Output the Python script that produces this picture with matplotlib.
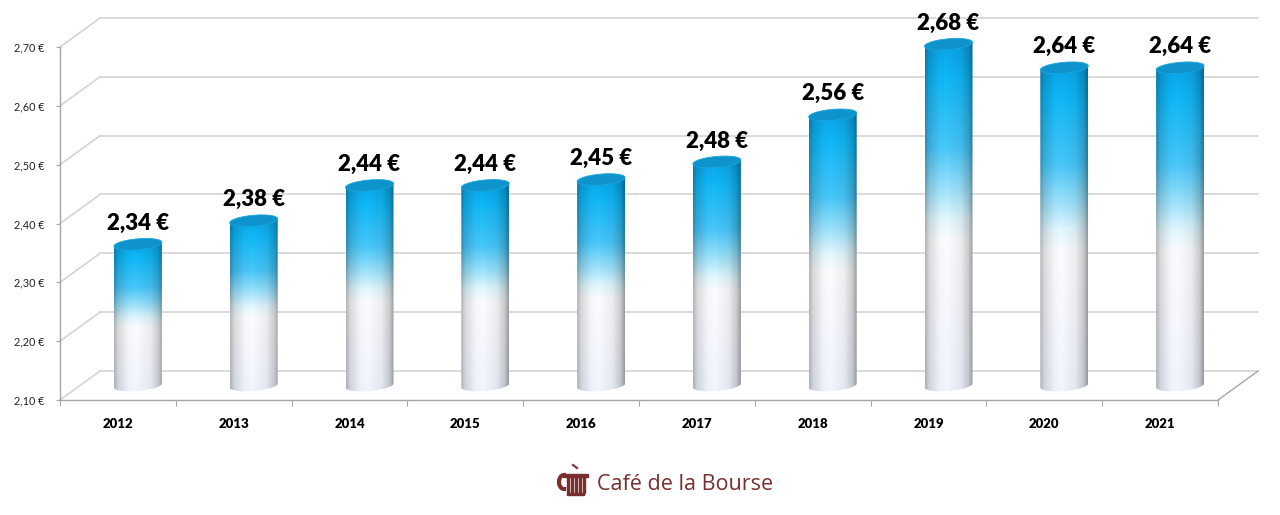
import matplotlib

matplotlib.use("Agg")
import matplotlib.pyplot as plt
import numpy as np
from matplotlib.patches import Polygon, Rectangle

years = ["2012", "2013", "2014", "2015", "2016", "2017", "2018", "2019", "2020", "2021"]
prices = [2.34, 2.38, 2.44, 2.44, 2.45, 2.48, 2.56, 2.68, 2.64, 2.64]
yticks = [2.10, 2.20, 2.30, 2.40, 2.50, 2.60, 2.70]
ytick_labels = ["2,10 €", "2,20 €", "2,30 €", "2,40 €", "2,50 €", "2,60 €", "2,70 €"]
value_labels = ["2,34 €", "2,38 €", "2,44 €", "2,44 €", "2,45 €", "2,48 €", "2,56 €", "2,68 €", "2,64 €", "2,64 €"]
brand = "Café de la Bourse"

W, H = 1280, 515
YMIN, YMAX = 2.10, 2.70
# front plane in pixels
X0, X1, YB, YT = 60, 1218, 400, 47
PX_X = (X1 - X0) / len(years)
PX_Y = (YB - YT) / (YMAX - YMIN)
YTOP = YMIN + YB / PX_Y  # axes reach the top edge of the figure
# depth offset of the back wall (pixels -> data units)
DX = 40 / PX_X
DY = 29 / PX_Y
CYL_W = 48 / PX_X
ELL_H = 5.5 / PX_Y
TILT = 2.0 / PX_Y

GRID_C = "#d4d4d4"
AXIS_C = "#a6a6a6"
BRAND_C = "#7b2e2e"

fig = plt.figure(figsize=(W / 100, H / 100), dpi=100)
ax = fig.add_axes([X0 / W, (H - YB) / H, (X1 - X0) / W, YB / H])
ax.set_xlim(0, len(years))
ax.set_ylim(YMIN, YTOP)
ax.patch.set_alpha(0)
for s in ("top", "right"):
    ax.spines[s].set_visible(False)
for s in ("left", "bottom"):
    ax.spines[s].set_color(AXIS_C)
    ax.spines[s].set_linewidth(1.0)
ax.spines["left"].set_bounds(YMIN, YMAX)

# back wall gridlines and side wall diagonals
for v in yticks:
    ax.plot([DX, len(years) + DX], [v + DY, v + DY], color=GRID_C, lw=1.2, zorder=0, clip_on=False)
    ax.plot([0, DX], [v, v + DY], color=GRID_C, lw=1.2, zorder=0, clip_on=False)
ax.plot([len(years), len(years) + DX], [YMIN, YMIN + DY], color=AXIS_C, lw=1.0, zorder=0, clip_on=False)

ax.set_yticks(yticks, ytick_labels)
ax.tick_params(axis="y", length=3, pad=8, labelsize=7.8, color=AXIS_C, labelcolor="#222222")
ax.set_xticks(np.arange(len(years) + 1), [])
ax.set_xticks(np.arange(len(years)) + 0.5, years, minor=True)
ax.tick_params(axis="x", which="major", length=4, color=AXIS_C)
ax.tick_params(axis="x", which="minor", length=0, pad=13)
for lbl in ax.get_xticklabels(minor=True):
    lbl.set_fontweight("heavy")
    lbl.set_fontsize(9.5)
    lbl.set_family("Lato")
for lbl in ax.get_yticklabels():
    lbl.set_family("Lato")


def cylinder_image(nrows=200, ncols=60):
    v = np.linspace(0, 1, nrows)
    u = np.linspace(0, 1, ncols)
    stops = np.array([0.0, 0.1, 0.3, 0.42, 0.5, 0.57, 1.0])
    cols = np.array([
        [0.04, 0.64, 0.90],
        [0.06, 0.72, 0.97],
        [0.28, 0.78, 0.98],
        [0.62, 0.89, 0.99],
        [0.88, 0.97, 1.00],
        [0.99, 0.99, 1.00],
        [0.94, 0.96, 1.00],
    ])
    base = np.stack([np.interp(v, stops, cols[:, k]) for k in range(3)], axis=1)[:, None, :]
    shade = np.interp(u, [0.0, 0.08, 0.3, 0.45, 0.75, 0.92, 1.0],
                      [0.72, 0.86, 0.98, 1.0, 0.94, 0.8, 0.62])[None, :, None]
    return np.clip(base * shade, 0, 1)


img = cylinder_image()
t = np.linspace(0, 2 * np.pi, 80)

for i, val in enumerate(prices):
    cx = i + 0.5 + DX / 2
    yb = YMIN + DY / 2
    yt = val + DY / 2
    a = CYL_W / 2
    # body outline: top edge straight, bottom half-ellipse
    tb = np.linspace(np.pi, 2 * np.pi, 40)
    bottom = np.column_stack([cx + a * np.cos(tb), yb + ELL_H * np.sin(tb) + TILT * np.cos(tb)])
    body = np.vstack([[cx - a, yt - TILT], bottom, [cx + a, yt + TILT]])
    clip = Polygon(body, closed=True, transform=ax.transData, facecolor="none", edgecolor="none")
    ax.add_patch(clip)
    im = ax.imshow(img, extent=[cx - a, cx + a, yb - ELL_H - TILT, yt + TILT],
                   aspect="auto", zorder=2, interpolation="bilinear")
    im.set_clip_path(clip)
    top = np.column_stack([cx + a * np.cos(t), yt + ELL_H * np.sin(t) + TILT * np.cos(t)])
    ax.add_patch(Polygon(top, closed=True, facecolor="#0f93cc", edgecolor="#1aa6dd", lw=0.6, zorder=3))
    ax.text(cx, yt + ELL_H + 5 / PX_Y, value_labels[i], ha="center", va="bottom",
            fontsize=16, fontweight="heavy", family="Lato", color="black", zorder=4)

ax.set_xlim(0, len(years))
ax.set_ylim(YMIN, YTOP)

# brand logo
lax = fig.add_axes([0, 0, 1, 1])
lax.set_xlim(0, W)
lax.set_ylim(H, 0)
lax.axis("off")
lax.patch.set_alpha(0)
lax.add_patch(Rectangle((563, 474), 25, 3, color=BRAND_C))
lax.add_patch(Rectangle((567, 492.5), 17, 2.5, color=BRAND_C))
for bx in (567.5, 571.5, 575.5, 579.5, 583.5):
    lax.add_patch(Rectangle((bx - 1.0, 477), 2.0, 16, color=BRAND_C))
lax.plot([573, 577], [465, 468], color=BRAND_C, lw=1.5)
hx = np.linspace(np.pi / 2, 3 * np.pi / 2, 30)
lax.plot(564 + 5 * np.cos(hx), 482 + 7 * np.sin(hx), color=BRAND_C, lw=3)
lax.text(597, 484, brand, ha="left", va="center", fontsize=15.5, family="Open Sans", color=BRAND_C)

fig.savefig("out.png", dpi=100)
